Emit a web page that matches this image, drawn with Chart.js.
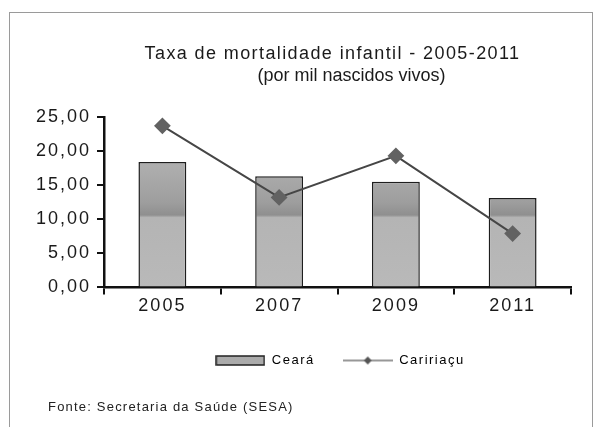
<!DOCTYPE html>
<html>
<head>
<meta charset="utf-8">
<script src="https://cdn.jsdelivr.net/npm/chart.js@4.4.1/dist/chart.umd.min.js"></script>
<style>
  body { margin: 0; background: #fff; }
  #wrap { position: relative; width: 595px; height: 427px; overflow: hidden; }
  #frame { position: absolute; left: 9px; top: 12px; width: 584px; height: 440px; border: 1px solid #9a9a9a; box-sizing: border-box; }
  #grafico { position: absolute; left: 0; top: 0; }
  #fonte { position: absolute; left: 48px; top: 399px; font: 13px "Liberation Sans", Arial, sans-serif; color: #222; letter-spacing: 1.2px; }
</style>
</head>
<body>
<div id="wrap">
  <div id="frame"></div>
  <canvas id="grafico" width="595" height="427"></canvas>
  <div id="fonte">Fonte: Secretaria da Saúde (SESA)</div>
</div>
<script>
// Anos e valores
const anos = ['2005', '2007', '2009', '2011'];
const ceara = [18.4, 16.3, 15.5, 13.1];
const caririacu = [23.7, 13.2, 19.3, 7.9];
const ticksY = [0, 5, 10, 15, 20, 25];
const titulo = 'Taxa de mortalidade infantil - 2005-2011';
const subtitulo = '(por mil nascidos vivos)';

// Envolve o draw de uma caixa para mudar o espaçamento e deslocar na horizontal
function ajustaCaixa(chart, caixa, espaco, dx) {
  if (!caixa) return;
  caixa.left += dx;
  caixa.right += dx;
  if (caixa._drawOriginal) return;
  caixa._drawOriginal = caixa.draw;
  caixa.draw = function(area) {
    chart.ctx.save();
    chart.ctx.letterSpacing = espaco;
    caixa._drawOriginal.call(caixa, area);
    chart.ctx.restore();
  };
}

// Espaçamento entre letras, parecido com o original
const espacamento = {
  id: 'espacamento',
  beforeUpdate(chart) { chart.ctx.letterSpacing = '2px'; },
  afterLayout(chart) {
    const sub = chart.boxes.find(b => b.options && b.options.text === subtitulo);
    ajustaCaixa(chart, chart.titleBlock, '1.4px', 37);
    ajustaCaixa(chart, sub, '0px', 56);
    ajustaCaixa(chart, chart.legend, '1.5px', 48);
  },
  beforeDraw(chart) { chart.ctx.letterSpacing = '2px'; }
};

// Preenchimento das barras: cinza com faixa mais escura
function gradienteBarra(context) {
  const area = context.chart.chartArea;
  if (!area) return '#b4b4b4';
  const g = context.chart.ctx.createLinearGradient(0, area.top, 0, area.bottom);
  g.addColorStop(0.0, '#b6b6b6');
  g.addColorStop(0.30, '#adadad');
  g.addColorStop(0.50, '#9e9e9e');
  g.addColorStop(0.575, '#8f8f8f');
  g.addColorStop(0.59, '#b4b4b4');
  g.addColorStop(1.0, '#b9b9b9');
  return g;
}

// Ícones da legenda
function iconeBarra() {
  const c = document.createElement('canvas');
  c.width = 50; c.height = 11;
  const x = c.getContext('2d');
  x.fillStyle = '#ababab';
  x.fillRect(1, 1, 48, 9);
  x.strokeStyle = '#222';
  x.lineWidth = 1.5;
  x.strokeRect(1, 1, 48, 9);
  return c;
}
function iconeLinha() {
  const c = document.createElement('canvas');
  c.width = 50; c.height = 12;
  const x = c.getContext('2d');
  x.strokeStyle = '#333';
  x.lineWidth = 1.2;
  x.beginPath(); x.moveTo(0, 6); x.lineTo(50, 6); x.stroke();
  x.fillStyle = '#555';
  x.beginPath(); x.moveTo(25, 2); x.lineTo(29, 6); x.lineTo(25, 10); x.lineTo(21, 6); x.closePath(); x.fill();
  return c;
}

const ctx = document.getElementById('grafico').getContext('2d');

const config = {
  data: {
    labels: anos,
    datasets: [
      {
        type: 'bar',
        label: 'Ceará',
        data: ceara,
        backgroundColor: gradienteBarra,
        borderColor: '#1e1e1e',
        borderWidth: 1.5,
        categoryPercentage: 1.0,
        barPercentage: 0.41,
        order: 2
      },
      {
        type: 'line',
        label: 'Caririaçu',
        data: caririacu,
        borderColor: '#464646',
        borderWidth: 2,
        pointStyle: 'rectRot',
        pointRadius: 7,
        pointBackgroundColor: '#626262',
        pointBorderColor: '#626262',
        tension: 0,
        order: 1
      }
    ]
  },
  options: {
    responsive: false,
    animation: false,
    layout: { padding: { left: 20, right: 24, top: 42.5, bottom: 50 } },
    scales: {
      x: {
        offset: true,
        afterFit(scale) { scale.height += 8; },
        grid: { display: true, drawOnChartArea: false, offset: true, color: '#111', lineWidth: 2, tickLength: 7 },
        border: { color: '#111', width: 2.5 },
        ticks: { color: '#1a1a1a', font: { family: 'Liberation Sans', size: 18 }, padding: 1 }
      },
      y: {
        min: 0,
        max: 25,
        afterBuildTicks(scale) { scale.ticks = ticksY.map(v => ({ value: v })); },
        afterFit(scale) { scale.width = 84; },
        grid: { display: true, drawOnChartArea: false, color: '#111', lineWidth: 2, tickLength: 7 },
        border: { color: '#111', width: 2.5 },
        ticks: {
          color: '#1a1a1a',
          font: { family: 'Liberation Sans', size: 18 },
          padding: 6,
          callback: v => v.toFixed(2).replace('.', ',')
        }
      }
    },
    plugins: {
      title: {
        display: true,
        text: titulo,
        color: '#1a1a1a',
        font: { family: 'Liberation Sans', size: 18, weight: 'normal', lineHeight: 1.25 },
        padding: { top: 0, bottom: 0 }
      },
      subtitle: {
        display: true,
        text: subtitulo,
        color: '#1a1a1a',
        font: { family: 'Liberation Sans', size: 18, weight: 'normal', lineHeight: 1.25 },
        padding: { top: 0, bottom: 29.5 }
      },
      legend: {
        position: 'bottom',
        labels: {
          usePointStyle: true,
          pointStyleWidth: 50,
          boxHeight: 10,
          padding: 28,
          color: '#1a1a1a',
          font: { family: 'Liberation Sans', size: 13 },
          generateLabels() {
            return [
              { text: 'Ceará', pointStyle: iconeBarra(), datasetIndex: 0, lineWidth: 0 },
              { text: 'Caririaçu', pointStyle: iconeLinha(), datasetIndex: 1, lineWidth: 0 }
            ];
          }
        }
      },
      tooltip: { enabled: false }
    }
  },
  plugins: [espacamento]
};

var grafico = new Chart(ctx, config);
</script>
</body>
</html>
